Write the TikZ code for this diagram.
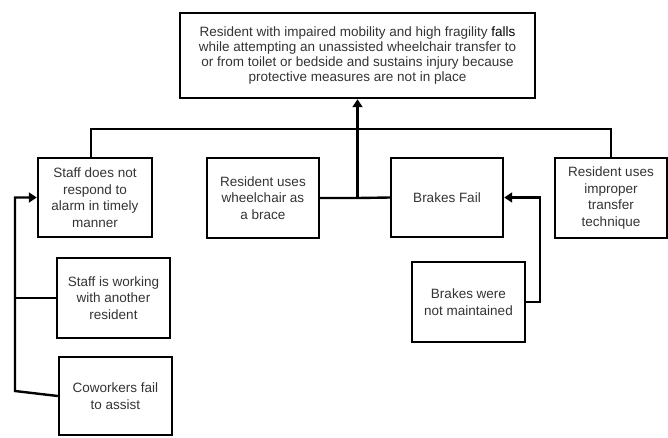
\documentclass[tikz,border=0pt]{standalone}
\usepackage{fontspec}
\setmainfont{Liberation Sans}
\usetikzlibrary{arrows.meta}
\definecolor{txt}{HTML}{333333}
\tikzset{
  box/.style={draw=black, line width=2.4pt, align=center, text=txt, inner sep=2pt,
    font=\fontsize{13.5}{16.5}\selectfont},
  conn/.style={line width=2.4pt},
  arr/.style={conn, -{Triangle[width=10pt,length=8pt]}}
}
\begin{document}
\begin{tikzpicture}[x=1pt,y=-1pt]
\useasboundingbox (0,0) rectangle (668,437);
\node[box, minimum width=355pt, minimum height=85pt, font=\fontsize{13.5}{15}\selectfont] (top) at (357.5,55.5)
  {Resident with impaired mobility and high fragility \textcolor{black}{falls}\\
   while attempting an unassisted wheelchair transfer to\\
   or from toilet or bedside and sustains injury because\\
   protective measures are not in place};
\node[box, minimum width=114pt, minimum height=79pt] (staff) at (95,197.5)
  {Staff does not\\respond to\\alarm in timely\\manner};
\node[box, minimum width=112pt, minimum height=80pt] (brace) at (263,198)
  {Resident uses\\wheelchair as\\a brace};
\node[box, minimum width=112pt, minimum height=79pt] (brakes) at (447,197.5)
  {Brakes Fail};
\node[box, minimum width=112pt, minimum height=80pt] (improper) at (611,198)
  {Resident uses\\improper\\transfer\\technique};
\node[box, minimum width=113pt, minimum height=80pt] (working) at (113.5,298)
  {Staff is working\\with another\\resident};
\node[box, minimum width=113pt, minimum height=78pt] (cowork) at (115.5,396)
  {Coworkers fail\\to assist};
\node[box, minimum width=113pt, minimum height=80pt] (maint) at (468.5,302)
  {Brakes were\\not maintained};

\coordinate (hl) at (91,129);
\coordinate (hr) at (611,129);
\coordinate (j) at (357.5,198);
\coordinate (lft) at (15,391);
\coordinate (lw) at (15,298);
\coordinate (rt) at (540,302);

\draw[conn] (staff.north -| hl) -- (hl) -- (hr) -- (improper.north);
\draw[arr] (j) -- (top.south);
\draw[conn] (brace.east) -- (j) -- (brakes.west);
\draw[arr] (cowork.west) -- (lft) |- (staff.west);
\draw[conn] (working.west) -- (lw);
\draw[arr] (maint.east) -- (rt) |- (brakes.east);
\end{tikzpicture}
\end{document}
